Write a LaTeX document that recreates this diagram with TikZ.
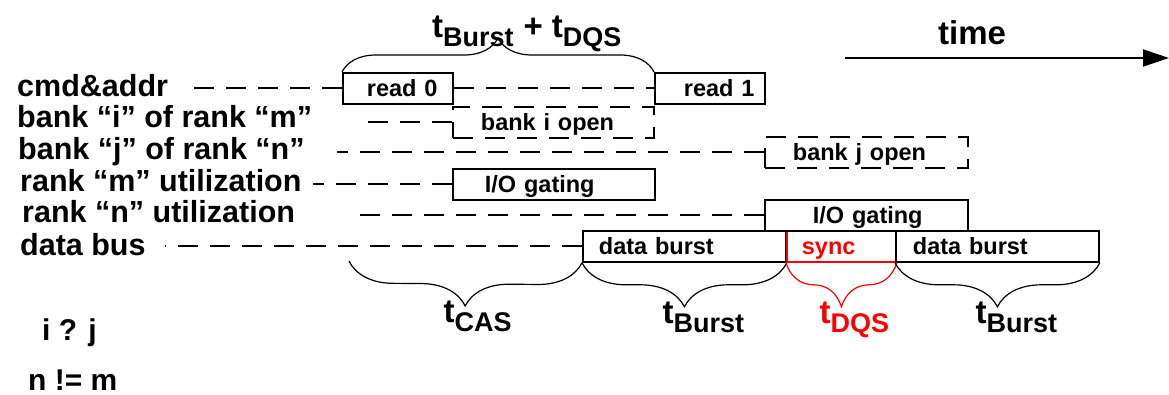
\documentclass[tikz,border=0pt]{standalone}
\usepackage{fontspec}
\setmainfont{Liberation Sans}
\usetikzlibrary{arrows.meta,decorations.pathreplacing,calc}

% font size in pt (one pt is one pixel of the page)
\newcommand\fs[1]{\fontsize{#1}{#1}\selectfont}
% timing parameter: large t with a lowered subscript
\newcommand\tsub[1]{{\fs{33}t}\raisebox{-9pt}{\fs{27}#1}}

\begin{document}
\begin{tikzpicture}[x=1pt,y=-1pt,
  rowlabel/.style={anchor=base west, inner sep=0pt, font=\bfseries\fs{30.5}},
  slot/.style={draw, line width=1.8pt, inner sep=0pt, anchor=north west,
    minimum height=31pt, text height=17pt, text depth=0pt, align=left,
    font=\bfseries\fs{23.5}},
  openslot/.style={slot, dash pattern=on 20pt off 12pt},
  guide/.style={line width=1.8pt, dash pattern=on 20pt off 12pt},
  upbrace/.style={line width=1.2pt, decorate, decoration={brace, amplitude=34pt}},
  downbrace/.style={line width=1.2pt, decorate, decoration={brace, mirror, amplitude=44pt}},
  tlabel/.style={anchor=base west, inner sep=0pt, font=\bfseries},
  note/.style={anchor=base west, inner sep=0pt, font=\bfseries\fs{30}}]

\useasboundingbox (0,0) rectangle (1169,395);

% signal names
\node[rowlabel] (lcmd) at (17,97)  {cmd\&addr};
\node[rowlabel] (lbi)  at (17,128) {bank “i” of rank “m”};
\node[rowlabel] (lbj)  at (18,160) {bank “j” of rank “n”};
\node[rowlabel] (lrm)  at (20,192) {rank “m” utilization};
\node[rowlabel] (lrn)  at (22,223) {rank “n” utilization};
\node[rowlabel] (lbus) at (20,255) {data bus};

% left ends of the guide lines
\coordinate (cmdL) at (182,87);
\coordinate (biL)  at (357,121);
\coordinate (bjL)  at (337,152);
\coordinate (rmL)  at (313,184);
\coordinate (rnL)  at (348,215);
\coordinate (busL) at (165,246);

% activity slots
\node[slot, text width=110pt] (r0) at (342,72) {\hspace*{24pt}read 0};
\node[slot, text width=110pt] (r1) at (654,72) {\hspace*{29pt}read 1};
\node[openslot, text width=201pt] (bi) at (452,106) {\hspace*{28pt}bank i open};
\node[openslot, text width=203pt] (bj) at (764,136) {\hspace*{28pt}bank j open};
\node[slot, text width=202pt] (gm) at (452,168) {\hspace*{32pt}I/O gating};
\node[slot, text width=203pt] (db1) at (582,230) {\hspace*{16pt}data burst};
\node[slot, draw=red, text=red, text width=109pt] (sy) at (786,230) {\hspace*{15pt}sync};
\node[slot, text width=203pt] (db2) at (895,230) {\hspace*{17pt}data burst};
\node[slot, text width=203pt] (gn) at (764,199) {\hspace*{48pt}I/O gating};

% dashed guides from each slot back to its signal
\draw[guide] (r0.west) -- (r0.west -| cmdL);
\draw[guide] (r0.east) -- (r1.west);
\draw[guide] (bi.west) -- (bi.west -| biL);
\draw[guide] (bj.west) -- (bj.west -| bjL);
\draw[guide] (gm.west) -- (gm.west -| rmL);
\draw[guide] (gn.west) -- (gn.west -| rnL);
\draw[guide] (db1.west) -- (db1.west -| busL);

% command spacing
\draw[upbrace] (r0.north west) -- (r1.north west);
\node[tlabel] (tgap) at ($(r0.north west)!0.5!(r1.north west)+(-66,-34)$)
  {\tsub{Burst}{\fs{33}\hspace{10pt}+\hspace{9pt}}\tsub{DQS}};

% data bus intervals
\coordinate (casL) at (349,261);
\draw[downbrace] (casL) -- (db1.south west);
\draw[downbrace] (db1.south west) -- (db1.south east);
\draw[downbrace, red] (sy.south west) -- (sy.south east);
\draw[downbrace] (db2.south west) -- (db2.south east);

\node[tlabel] (tcas) at ($(casL)!0.5!(db1.south west)+(-22,61)$) {\tsub{CAS}};
\node[tlabel] (tb1) at ($(db1.south west)!0.5!(db1.south east)+(-22,61)$) {\tsub{Burst}};
\node[tlabel, text=red] (tdqs) at ($(sy.south west)!0.5!(sy.south east)+(-22,61)$) {\tsub{DQS}};
\node[tlabel] (tb2) at ($(db2.south west)!0.5!(db2.south east)+(-22,61)$) {\tsub{Burst}};

% time axis
\coordinate (tA) at (845,58);
\coordinate (tB) at (1169,58);
\draw[line width=2pt, -{Triangle[length=26pt, width=17pt]}] (tA) -- (tB);
\node[anchor=base west, inner sep=0pt, font=\bfseries\fs{33}] (time) at (938,45) {time};

% conditions
\node[note] (ij) at (42,340) {i ? j};
\node[note] (nm) at (28,390) {n != m};

\end{tikzpicture}
\end{document}
